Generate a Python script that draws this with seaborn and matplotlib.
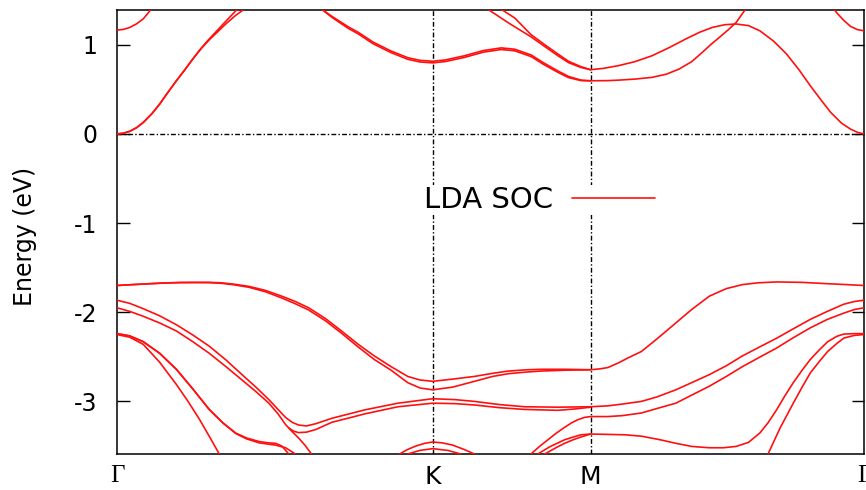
import matplotlib
matplotlib.use("Agg")
import matplotlib.pyplot as plt
import pandas as pd
import seaborn as sns
from matplotlib.lines import Line2D

# ---- path through the Brillouin zone: Γ - K - M - Γ (units of 4π/3a) ----
kpoint_labels = ["Γ", "K", "M", "Γ"]
kpoint_pos = [0.0, 1.0, 1.5, 2.366]

energy_ticks = [1, 0, -1, -2, -3]
energy_range = (-3.59, 1.39)

# ---- conduction bands (k, E in eV) ----
c1a_k = [0, 0.02, 0.041, 0.062, 0.083, 0.11, 0.135, 0.16, 0.188, 0.215, 0.24,
         0.265, 0.292, 0.32, 0.345, 0.376, 0.41]
c1a_e = [0, 0.008, 0.03, 0.07, 0.128, 0.225, 0.334, 0.46, 0.596, 0.72, 0.84,
         0.955, 1.065, 1.17, 1.265, 1.38, 1.50]
c1b_k = [0, 0.02, 0.041, 0.062, 0.083, 0.11, 0.135, 0.16, 0.188, 0.215, 0.24,
         0.265, 0.292, 0.32, 0.345, 0.376, 0.403, 0.44]
c1b_e = [0, 0.008, 0.03, 0.07, 0.128, 0.225, 0.334, 0.46, 0.596, 0.72, 0.84,
         0.95, 1.055, 1.15, 1.235, 1.33, 1.40, 1.50]

c2l_k = [0, 0.02, 0.041, 0.062, 0.083, 0.104, 0.125]
c2l_e = [1.165, 1.172, 1.195, 1.235, 1.29, 1.38, 1.48]
c2r_k = [2.24, 2.261, 2.282, 2.303, 2.324, 2.345, 2.366]
c2r_e = [1.54, 1.44, 1.35, 1.27, 1.205, 1.17, 1.157]

c3a_k = [0.62, 0.648, 0.68, 0.711, 0.733, 0.764, 0.811, 0.868, 0.921, 0.96,
         1.0, 1.04, 1.1, 1.16, 1.217, 1.26, 1.312, 1.35, 1.397, 1.43, 1.47,
         1.5, 1.555, 1.587, 1.64, 1.694, 1.74, 1.78, 1.82, 1.854, 1.88,
         1.908, 1.935, 1.961, 1.991, 2.01]
c3a_e = [1.50, 1.40, 1.32, 1.25, 1.20, 1.14, 1.03, 0.93, 0.855, 0.825,
         0.815, 0.83, 0.876, 0.935, 0.965, 0.95, 0.885, 0.80, 0.705, 0.645, 0.603,
         0.596, 0.598, 0.603, 0.615, 0.634, 0.67, 0.727, 0.81, 0.915, 1.0,
         1.083, 1.165, 1.25, 1.40, 1.50]
c3b_k = [0.648, 0.68, 0.711, 0.733, 0.764, 0.811, 0.868, 0.921, 0.96, 1.0,
         1.04, 1.1, 1.16, 1.217, 1.26, 1.312, 1.35, 1.397, 1.43, 1.47, 1.5]
c3b_e = [1.40, 1.31, 1.235, 1.183, 1.122, 1.012, 0.912, 0.837, 0.807, 0.797,
         0.812, 0.858, 0.917, 0.947, 0.932, 0.867, 0.782, 0.69, 0.632, 0.598, 0.596]

c4a_k = [1.111, 1.174, 1.24, 1.311, 1.355, 1.397, 1.43, 1.469, 1.5, 1.54,
         1.587, 1.64, 1.694, 1.75, 1.801, 1.845, 1.886, 1.925, 1.961, 2.0,
         2.036, 2.08, 2.121, 2.16, 2.196, 2.23, 2.261, 2.295, 2.324, 2.345, 2.366]
c4a_e = [1.58, 1.40, 1.245, 1.09, 0.98, 0.876, 0.80, 0.746, 0.72, 0.735,
         0.765, 0.81, 0.876, 0.97, 1.064, 1.14, 1.195, 1.225, 1.233, 1.215,
         1.157, 1.04, 0.895, 0.72, 0.54, 0.38, 0.24, 0.12, 0.053, 0.018, 0.0]
c4b_k = [1.159, 1.216, 1.26, 1.311, 1.355, 1.397, 1.43, 1.469, 1.5]
c4b_e = [1.55, 1.40, 1.30, 1.115, 1.0, 0.895, 0.815, 0.755, 0.72]

# ---- valence bands ----
v1a_k = [0, 0.05, 0.104, 0.15, 0.198, 0.25, 0.292, 0.33, 0.37, 0.418, 0.47,
         0.522, 0.565, 0.607, 0.66, 0.711, 0.764, 0.815, 0.868, 0.921, 0.96,
         1.0, 1.063, 1.132, 1.19, 1.238, 1.3, 1.342, 1.42, 1.5, 1.53, 1.555,
         1.587, 1.62, 1.661, 1.71, 1.77, 1.82, 1.876, 1.93, 1.981, 2.03, 2.09,
         2.17, 2.251, 2.31, 2.366]
v1a_e = [-1.70, -1.69, -1.68, -1.672, -1.667, -1.665, -1.665, -1.67, -1.685,
         -1.71, -1.755, -1.82, -1.88, -1.95, -2.07, -2.21, -2.36, -2.49, -2.61,
         -2.72, -2.76, -2.775, -2.75, -2.72, -2.685, -2.66, -2.645, -2.64,
         -2.64, -2.645, -2.635, -2.62, -2.57, -2.51, -2.44, -2.30, -2.12, -1.97,
         -1.82, -1.735, -1.69, -1.67, -1.66, -1.665, -1.68, -1.69, -1.70]
v1b_k = [0, 0.05, 0.104, 0.15, 0.198, 0.25, 0.292, 0.33, 0.37, 0.418, 0.47,
         0.522, 0.565, 0.607, 0.66, 0.711, 0.764, 0.815, 0.868, 0.921, 0.96,
         1.0, 1.063, 1.132, 1.19, 1.238, 1.3, 1.342, 1.42, 1.5]
v1b_e = [-1.70, -1.69, -1.68, -1.672, -1.667, -1.667, -1.668, -1.675, -1.692,
         -1.72, -1.77, -1.84, -1.905, -1.975, -2.095, -2.235, -2.39, -2.53,
         -2.65, -2.79, -2.85, -2.87, -2.84, -2.775, -2.72, -2.69, -2.67, -2.66,
         -2.65, -2.645]

v2a_k = [0, 0.04, 0.083, 0.135, 0.188, 0.24, 0.292, 0.345, 0.396, 0.44, 0.481,
         0.51, 0.534, 0.555, 0.575, 0.60, 0.63, 0.68, 0.785, 0.89, 1.0, 1.07,
         1.132, 1.21, 1.291, 1.397, 1.5, 1.555, 1.6, 1.661, 1.71, 1.77, 1.82,
         1.876, 1.93, 1.981, 2.035, 2.09, 2.14, 2.196, 2.25, 2.302, 2.335, 2.366]
v2a_e = [-1.865, -1.90, -1.96, -2.04, -2.14, -2.255, -2.38, -2.535, -2.70, -2.84,
         -2.98, -3.09, -3.18, -3.235, -3.265, -3.275, -3.25, -3.19, -3.095,
         -3.02, -2.97, -2.98, -3.0, -3.035, -3.06, -3.065, -3.06, -3.05, -3.03,
         -3.0, -2.95, -2.87, -2.79, -2.70, -2.60, -2.49, -2.39, -2.29, -2.19,
         -2.08, -1.99, -1.91, -1.88, -1.865]
v2b_k = [0, 0.04, 0.083, 0.135, 0.188, 0.24, 0.292, 0.345, 0.396, 0.44, 0.481,
         0.51, 0.534, 0.555, 0.575, 0.595, 0.616, 0.64]
v2b_e = [-1.95, -1.99, -2.045, -2.12, -2.21, -2.33, -2.46, -2.61, -2.76, -2.89,
         -3.02, -3.14, -3.26, -3.34, -3.41, -3.49, -3.59, -3.70]

v5_k = [0.545, 0.56, 0.575, 0.60, 0.63, 0.68, 0.785, 0.89, 1.0, 1.07, 1.132,
        1.21, 1.291, 1.397, 1.45, 1.5]
v5_e = [-3.30, -3.335, -3.35, -3.345, -3.315, -3.235, -3.14, -3.06, -3.02,
        -3.025, -3.04, -3.07, -3.09, -3.10, -3.085, -3.065]

v6_k = [1.30, 1.311, 1.34, 1.365, 1.39, 1.418, 1.44, 1.46, 1.48, 1.5, 1.555,
        1.6, 1.661, 1.71, 1.77, 1.82, 1.876, 1.93, 1.981, 2.035, 2.09, 2.14,
        2.196, 2.25, 2.302, 2.335, 2.366]
v6_e = [-3.70, -3.59, -3.50, -3.43, -3.36, -3.29, -3.24, -3.205, -3.18, -3.17,
        -3.17, -3.16, -3.13, -3.08, -3.02, -2.93, -2.83, -2.72, -2.61, -2.505,
        -2.40, -2.29, -2.175, -2.08, -2.01, -1.97, -1.95]

v7a_k = [1.32, 1.333, 1.37, 1.418, 1.445, 1.469, 1.5, 1.555, 1.61, 1.661, 1.72,
         1.77, 1.82, 1.876, 1.92, 1.961, 2.0, 2.036, 2.062, 2.09, 2.115, 2.142,
         2.17, 2.196, 2.225, 2.251, 2.28, 2.302, 2.335, 2.366]
v7a_e = [-3.70, -3.59, -3.51, -3.43, -3.40, -3.375, -3.366, -3.37, -3.375,
         -3.39, -3.43, -3.47, -3.505, -3.52, -3.52, -3.505, -3.46, -3.355,
         -3.24, -3.09, -2.94, -2.79, -2.65, -2.53, -2.42, -2.33, -2.27, -2.245,
         -2.24, -2.24]
v7b_k = [1.34, 1.355, 1.39, 1.418, 1.445, 1.469, 1.5]
v7b_e = [-3.70, -3.59, -3.52, -3.47, -3.43, -3.40, -3.366]

v3a_k = [0, 0.04, 0.083, 0.135, 0.188, 0.24, 0.292, 0.335, 0.376, 0.41, 0.45,
         0.48, 0.502, 0.522, 0.544, 0.56]
v3a_e = [-2.24, -2.265, -2.33, -2.46, -2.64, -2.86, -3.09, -3.24, -3.355,
         -3.41, -3.45, -3.465, -3.47, -3.50, -3.59, -3.68]
v3b_k = [0, 0.04, 0.083, 0.135, 0.188, 0.24, 0.292, 0.335, 0.376, 0.41, 0.45,
         0.48, 0.502, 0.534, 0.565, 0.58]
v3b_e = [-2.24, -2.265, -2.33, -2.46, -2.64, -2.86, -3.09, -3.24, -3.36,
         -3.42, -3.465, -3.48, -3.49, -3.52, -3.59, -3.66]

v4l_k = [0, 0.04, 0.083, 0.135, 0.188, 0.225, 0.261, 0.292, 0.324, 0.34]
v4l_e = [-2.25, -2.28, -2.36, -2.56, -2.81, -3.0, -3.2, -3.39, -3.59, -3.70]
v4r_k = [2.04, 2.062, 2.1, 2.142, 2.17, 2.196, 2.225, 2.251, 2.28, 2.302,
         2.335, 2.366]
v4r_e = [-3.75, -3.59, -3.30, -3.02, -2.84, -2.68, -2.55, -2.44, -2.35, -2.29,
         -2.26, -2.25]

v8a_k = [0.88, 0.895, 0.92, 0.947, 0.975, 1.0, 1.03, 1.063, 1.1, 1.132, 1.15]
v8a_e = [-3.70, -3.59, -3.54, -3.50, -3.47, -3.455, -3.465, -3.49, -3.54,
         -3.59, -3.65]
v8b_k = [0.91, 0.921, 0.959, 1.0, 1.048, 1.089, 1.10]
v8b_e = [-3.70, -3.59, -3.55, -3.53, -3.55, -3.59, -3.63]

band_list = [
    (c1a_k, c1a_e), (c1b_k, c1b_e), (c2l_k, c2l_e), (c2r_k, c2r_e),
    (c3a_k, c3a_e), (c3b_k, c3b_e), (c4a_k, c4a_e), (c4b_k, c4b_e),
    (v1a_k, v1a_e), (v1b_k, v1b_e), (v2a_k, v2a_e), (v2b_k, v2b_e),
    (v5_k, v5_e), (v6_k, v6_e), (v7a_k, v7a_e), (v7b_k, v7b_e),
    (v3a_k, v3a_e), (v3b_k, v3b_e), (v4l_k, v4l_e), (v4r_k, v4r_e),
    (v8a_k, v8a_e), (v8b_k, v8b_e),
]

frames = []
for i, (kk, ee) in enumerate(band_list):
    frames.append(pd.DataFrame({"band": i, "k": kk, "E": ee}))
bands = pd.concat(frames, ignore_index=True)

# ---- styling ----
sns.set_theme(style="white")
plt.rcParams["font.family"] = ["DejaVu Sans"]
plt.rcParams["axes.unicode_minus"] = False
plt.rcParams["text.color"] = "black"
plt.rcParams["axes.labelcolor"] = "black"
plt.rcParams["xtick.color"] = "black"
plt.rcParams["ytick.color"] = "black"

RED = "#ff1010"
dashdot = (0, (3.5, 1.6, 1.0, 1.6))

fig = plt.figure(figsize=(8.66, 4.90), dpi=100)
ax = fig.add_axes([117 / 866, 36 / 490, 747 / 866, 444 / 490])

sns.lineplot(data=bands, x="k", y="E", units="band", estimator=None,
             sort=False, color=RED, linewidth=1.2, legend=False, ax=ax,
             zorder=3)

for xp in kpoint_pos[1:-1]:
    ax.axvline(xp, color="black", lw=1.0, ls=dashdot, zorder=2)
ax.axhline(0.0, color="black", lw=1.0, ls=dashdot, zorder=2)

ax.set_xlim(kpoint_pos[0], kpoint_pos[-1])
ax.set_ylim(*energy_range)

ax.set_xticks(kpoint_pos)
ax.set_xticklabels(kpoint_labels)
for lbl in ax.get_xticklabels():
    if lbl.get_text() == "Γ":
        lbl.set_fontfamily(["Liberation Serif", "DejaVu Serif"])
ax.tick_params(axis="x", length=0, pad=8, labelsize=18, colors="black")

ax.set_yticks(energy_ticks)
ax.set_yticklabels([str(t) for t in energy_ticks])
ax.tick_params(axis="y", direction="in", length=9, width=1.0, left=True,
               right=True, pad=14, labelsize=17, colors="black")

ax.set_xlabel("")
ax.set_ylabel("Energy (eV)", fontsize=17, color="black")
ax.yaxis.set_label_coords(-0.107, 0.491)

for side in ax.spines.values():
    side.set_color("black")
    side.set_linewidth(1.1)

handle = Line2D([0], [0], color=RED, lw=1.2)
leg = ax.legend([handle], ["LDA SOC"], markerfirst=False, loc="center right",
                bbox_to_anchor=(0.722, 0.572), frameon=True, fancybox=False,
                facecolor="white", edgecolor="none", framealpha=1.0,
                borderpad=0.05, borderaxespad=0, handlelength=2.84,
                handletextpad=0.65, fontsize=21, labelcolor="black")
leg.set_zorder(5)

fig.savefig("out.png", dpi=100)
